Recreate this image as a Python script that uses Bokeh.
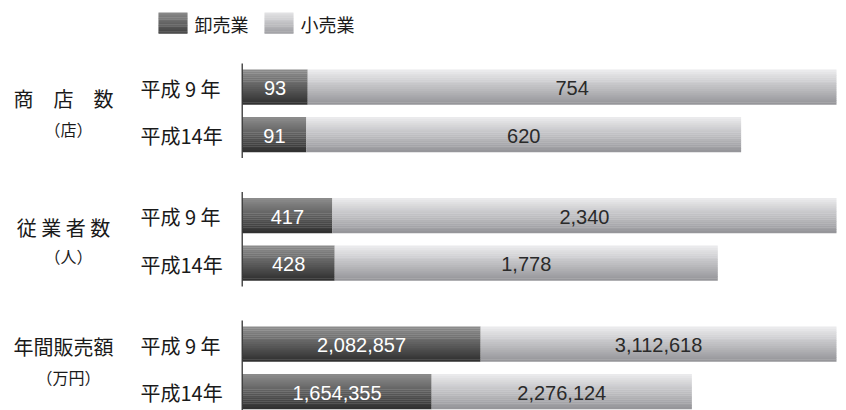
from bokeh.plotting import figure
from bokeh.models import Range1d, ColumnDataSource
from bokeh.core.properties import value
from bokeh.embed import file_html
from bokeh.resources import INLINE

# ---------------- data ----------------
groups = ["商店数", "従業者数", "年間販売額"]
group_titles = ["商　店　数", "従 業 者 数", "年間販売額"]
group_units = ["（店）", "（人）", "（万円）"]
years = ["平成 9 年", "平成14年"]
series = ["卸売業", "小売業"]
wholesale = [[93, 91], [417, 428], [2082857, 1654355]]
retail = [[754, 620], [2340, 1778], [3112618, 2276124]]

# ---------------- layout ----------------
W, H = 846, 410
X0, XSCALE = 242.0, 594.0          # pixel of 0 and pixels per 100 %
def px(x):
    return (x - X0) / XSCALE

BAR_H = 35
GROUP_Y0 = 86.5
GROUP_STEP = 128.5
ROW_STEP = 47.5
title_dy = [11.5, 11.5, 2.5]
unit_dy = [41.5, 40.5, 32.5]
NSTRIP = 18

def lerp_hex(c1, c2, t):
    a = [int(c1[i:i + 2], 16) for i in (1, 3, 5)]
    b = [int(c2[i:i + 2], 16) for i in (1, 3, 5)]
    return "#%02x%02x%02x" % tuple(round(a[k] + (b[k] - a[k]) * t) for k in range(3))

DARK = ("#8e8e8e", "#2e2e2e")
LIGHT = ("#ececee", "#949498")

p = figure(width=W, height=H, output_backend="svg", toolbar_location=None,
           x_range=Range1d(px(0), px(W)), y_range=Range1d(H, 0),
           min_border=0, outline_line_color=None)
p.xaxis.visible = False
p.yaxis.visible = False
p.xgrid.visible = False
p.ygrid.visible = False
p.background_fill_color = "white"
p.border_fill_color = "white"

# gradient strips
L, R, T, B, C = [], [], [], [], []
lab_x, lab_y, lab_t, lab_c = [], [], [], []
for g in range(len(groups)):
    total0 = wholesale[g][0] + retail[g][0]
    for i in range(len(years)):
        yc = GROUP_Y0 + GROUP_STEP * g + ROW_STEP * i
        w = wholesale[g][i] / total0
        r = retail[g][i] / total0
        for seg, (lft, rgt, cols) in enumerate([(0, w, DARK), (w, w + r, LIGHT)]):
            for k in range(NSTRIP):
                top = yc - BAR_H / 2 + BAR_H * k / NSTRIP
                bot = yc - BAR_H / 2 + BAR_H * (k + 1) / NSTRIP
                L.append(lft); R.append(rgt); T.append(top); B.append(bot + 0.3)
                C.append(lerp_hex(cols[0], cols[1], (k + 0.5) / NSTRIP))
        lab_x += [w / 2, w + r / 2]
        lab_y += [yc + 1, yc + 1]
        lab_t += [f"{wholesale[g][i]:,}", f"{retail[g][i]:,}"]
        lab_c += ["white", "#2a2a2a"]

p.quad(left="l", right="r", top="t", bottom="b", fill_color="c", line_color=None,
       source=ColumnDataSource(dict(l=L, r=R, t=T, b=B, c=C)))

p.text(x="x", y="y", text="t", text_color="c", text_align="center",
       text_baseline="middle", text_font=value("Liberation Sans"),
       text_font_size="20px",
       source=ColumnDataSource(dict(x=lab_x, y=lab_y, t=lab_t, c=lab_c)))

# axis lines per group
ax_y0 = [GROUP_Y0 + GROUP_STEP * g - 23.5 for g in range(len(groups))]
ax_y1 = [GROUP_Y0 + GROUP_STEP * g + ROW_STEP + 23.5 for g in range(len(groups))]
p.segment(x0=[px(X0 - 0.3)] * 3, x1=[px(X0 - 0.3)] * 3, y0=ax_y0, y1=ax_y1,
          line_color="#222222", line_width=1.2)

# year labels
yl_y, yl_t = [], []
for g in range(len(groups)):
    for i in range(len(years)):
        yl_y.append(GROUP_Y0 + GROUP_STEP * g + ROW_STEP * i + 1)
        yl_t.append(years[i])
p.text(x=[px(140)] * len(yl_y), y=yl_y, text=yl_t, text_align="left",
       text_baseline="middle", text_font=value("Noto Sans CJK JP"),
       text_font_size="20px", text_color="#1a1a1a")

# group titles
p.text(x=[px(63)] * 3, y=[GROUP_Y0 + GROUP_STEP * g + title_dy[g] for g in range(3)],
       text=group_titles, text_align="center", text_baseline="middle",
       text_font=value("Noto Sans CJK JP"), text_font_size="20px", text_color="#1a1a1a")
p.text(x=[px(68)] * 3, y=[GROUP_Y0 + GROUP_STEP * g + unit_dy[g] for g in range(3)],
       text=group_units, text_align="center", text_baseline="middle",
       text_font=value("Noto Sans CJK JP"), text_font_size="16px", text_color="#1a1a1a")

# legend
LG_X = [158, 264]
LG_W = 29
LL, LR, LT, LB, LC = [], [], [], [], []
for s, cols in enumerate([("#8a8a8a", "#3e3e3e"), ("#e4e4e6", "#9c9ca0")]):
    for k in range(NSTRIP):
        LL.append(px(LG_X[s])); LR.append(px(LG_X[s] + LG_W))
        LT.append(12 + 21 * k / NSTRIP); LB.append(12 + 21 * (k + 1) / NSTRIP + 0.3)
        LC.append(lerp_hex(cols[0], cols[1], (k + 0.5) / NSTRIP))
p.quad(left=LL, right=LR, top=LT, bottom=LB, fill_color=LC, line_color=None)
p.text(x=[px(x + LG_W + 7) for x in LG_X], y=[23, 23], text=series,
       text_align="left", text_baseline="middle",
       text_font=value("Noto Sans CJK JP"), text_font_size="18px", text_color="#1a1a1a")

open("out.html", "w").write(file_html(p, INLINE))
